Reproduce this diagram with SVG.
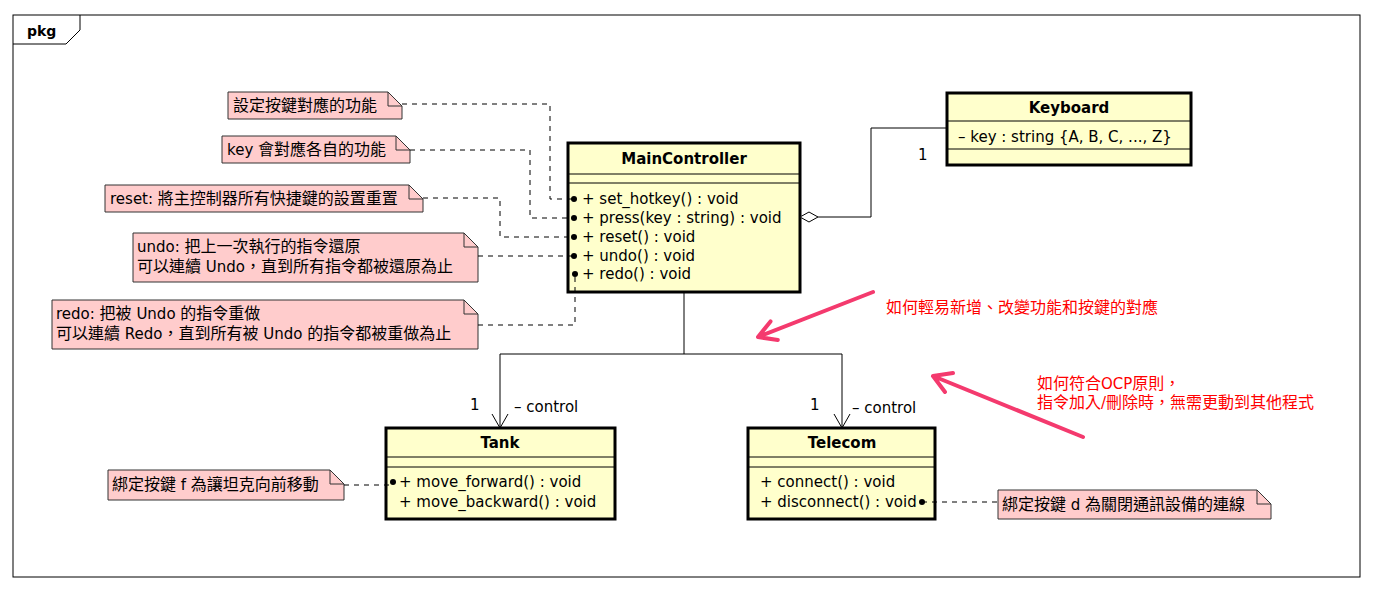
<svg xmlns="http://www.w3.org/2000/svg" width="1373" height="590" viewBox="0 0 1373 590">
<style>
text{font-family:"DejaVu Sans","Noto Sans CJK TC",sans-serif;fill:#000}
.cls{fill:#FFFFCC;stroke:#000;stroke-width:3}
.sep{stroke:#000;stroke-width:1}
.name{font-weight:bold;font-size:15px;text-anchor:middle}
.mem{font-size:15px}
.note{fill:#FFCCCC;stroke:#333;stroke-width:1}
.fold{fill:none;stroke:#333;stroke-width:1}
.nt{font-size:16px}
.lt{font-size:15px}
.dash{fill:none;stroke:#000;stroke-width:1;stroke-dasharray:5,5}
.solid{fill:none;stroke:#000;stroke-width:1}
.red{fill:none;stroke:#F43A6E;stroke-width:4;stroke-linecap:round;stroke-linejoin:round}
.rt{font-size:16px;fill:#FF0000}
.lbl{font-size:15px}
</style>
<rect width="1373" height="590" fill="#fff"/>
<g id="frame">
<rect x="13" y="15" width="1347" height="562" fill="none" stroke="#000" stroke-width="1"/>
<path d="M13,44 L66,44 L80,30 L80,15" fill="none" stroke="#000" stroke-width="1"/>
<text x="27" y="36" style="font-weight:bold;font-size:14px">pkg</text>
</g>
<g id="MainController">
<rect class="cls" x="568" y="143" width="232" height="149"/>
<line class="sep" x1="568" y1="174" x2="800" y2="174"/>
<line class="sep" x1="568" y1="183" x2="800" y2="183"/>
<text class="name" x="684" y="164">MainController</text>
<text class="mem" x="582" y="204">+ set_hotkey() : void</text>
<text class="mem" x="582" y="223">+ press(key : string) : void</text>
<text class="mem" x="582" y="242">+ reset() : void</text>
<text class="mem" x="582" y="261">+ undo() : void</text>
<text class="mem" x="582" y="279">+ redo() : void</text>
</g>
<g id="Keyboard">
<rect class="cls" x="947" y="93" width="244" height="72"/>
<line class="sep" x1="947" y1="121" x2="1191" y2="121"/>
<line class="sep" x1="947" y1="149" x2="1191" y2="149"/>
<text class="name" x="1069" y="113">Keyboard</text>
<text class="mem" x="958" y="142">– key : string {A, B, C, ..., Z}</text>
</g>
<g id="Tank">
<rect class="cls" x="386" y="428" width="229" height="91"/>
<line class="sep" x1="386" y1="457" x2="615" y2="457"/>
<line class="sep" x1="386" y1="467" x2="615" y2="467"/>
<text class="name" x="500" y="448">Tank</text>
<text class="mem" x="399" y="487">+ move_forward() : void</text>
<text class="mem" x="399" y="507">+ move_backward() : void</text>
</g>
<g id="Telecom">
<rect class="cls" x="748" y="428" width="187" height="91"/>
<line class="sep" x1="748" y1="457" x2="935" y2="457"/>
<line class="sep" x1="748" y1="467" x2="935" y2="467"/>
<text class="name" x="842" y="448">Telecom</text>
<text class="mem" x="760" y="487">+ connect() : void</text>
<text class="mem" x="760" y="507">+ disconnect() : void</text>
</g>
<g id="note1">
<path class="note" d="M228,92 H388 L402,106 V119 H228 Z"/>
<path class="fold" d="M388,92 V106 H402"/>
<text class="nt" x="233" y="111">設定按鍵對應的功能</text>
</g>
<g id="note2">
<path class="note" d="M222,136 H396 L410,150 V163 H222 Z"/>
<path class="fold" d="M396,136 V150 H410"/>
<text class="nt" x="227" y="155"><tspan class="lt">key </tspan>會對應各自的功能</text>
</g>
<g id="note3">
<path class="note" d="M105,185 H409 L423,199 V212 H105 Z"/>
<path class="fold" d="M409,185 V199 H423"/>
<text class="nt" x="110" y="204"><tspan class="lt">reset: </tspan>將主控制器所有快捷鍵的設置重置</text>
</g>
<g id="note4">
<path class="note" d="M133,233 H464 L478,247 V282 H133 Z"/>
<path class="fold" d="M464,233 V247 H478"/>
<text class="nt" x="137" y="252"><tspan class="lt">undo: </tspan>把上一次執行的指令還原</text>
<text class="nt" x="137" y="272">可以連續<tspan class="lt"> Undo</tspan>，直到所有指令都被還原為止</text>
</g>
<g id="note5">
<path class="note" d="M52,300 H464 L478,314 V349 H52 Z"/>
<path class="fold" d="M464,300 V314 H478"/>
<text class="nt" x="56" y="319"><tspan class="lt">redo: </tspan>把被<tspan class="lt"> Undo </tspan>的指令重做</text>
<text class="nt" x="56" y="339">可以連續<tspan class="lt"> Redo</tspan>，直到所有被<tspan class="lt"> Undo </tspan>的指令都被重做為止</text>
</g>
<g id="note_tank">
<path class="note" d="M108,470 H330 L344,484 V500 H108 Z"/>
<path class="fold" d="M330,470 V484 H344"/>
<text class="nt" x="112" y="490">綁定按鍵<tspan class="lt"> f </tspan>為讓坦克向前移動</text>
</g>
<g id="note_telecom">
<path class="note" d="M998,490 H1257 L1271,504 V519 H998 Z"/>
<path class="fold" d="M1257,490 V504 H1271"/>
<text class="nt" x="1002" y="510">綁定按鍵<tspan class="lt"> d </tspan>為關閉通訊設備的連線</text>
</g>
<g id="connectors">
<path class="dash" d="M402,104 H550 V199 H574"/>
<path class="dash" d="M410,150 H530 V218 H574"/>
<path class="dash" d="M423,198 H500 V237 H574"/>
<path class="dash" d="M478,256 H574"/>
<path class="dash" d="M478,325 H575 V274"/>
<path class="dash" d="M344,485 H394"/>
<path class="dash" d="M922,502 H998"/>
<circle cx="574" cy="199" r="3"/>
<circle cx="574" cy="218" r="3"/>
<circle cx="574" cy="237" r="3"/>
<circle cx="574" cy="256" r="3"/>
<circle cx="575" cy="274" r="3"/>
<circle cx="393" cy="482" r="3"/>
<circle cx="922" cy="502" r="3"/>
<path class="solid" d="M818,217 H871 V128 H947"/>
<path d="M800,217 L809,212 L818,217 L809,222 Z" fill="#fff" stroke="#000" stroke-width="1"/>
<text class="lbl" x="918" y="160">1</text>
<path class="solid" d="M684,292 V354 M500,354 H842 M500,354 V428 M842,354 V428"/>
<path class="solid" d="M492,414 L500,428 L508,414 M834,414 L842,428 L850,414"/>
<text class="lbl" x="470" y="410">1</text>
<text class="lbl" x="514" y="412">– control</text>
<text class="lbl" x="810" y="410">1</text>
<text class="lbl" x="852" y="413">– control</text>
</g>
<g id="annotations">
<path class="red" d="M873,292 L758,337 M770.5,321.4 L758,337 L777.8,340"/>
<path class="red" d="M1083,437 L933,376 M945,392 L933,376 L953,373"/>
<text class="rt" x="886" y="313">如何輕易新增、改變功能和按鍵的對應</text>
<text class="rt" x="1037" y="389">如何符合<tspan style="font-size:15px">OCP</tspan>原則，</text>
<text class="rt" x="1037" y="408">指令加入<tspan style="font-size:15px">/</tspan>刪除時，無需更動到其他程式</text>
</g>
</svg>
